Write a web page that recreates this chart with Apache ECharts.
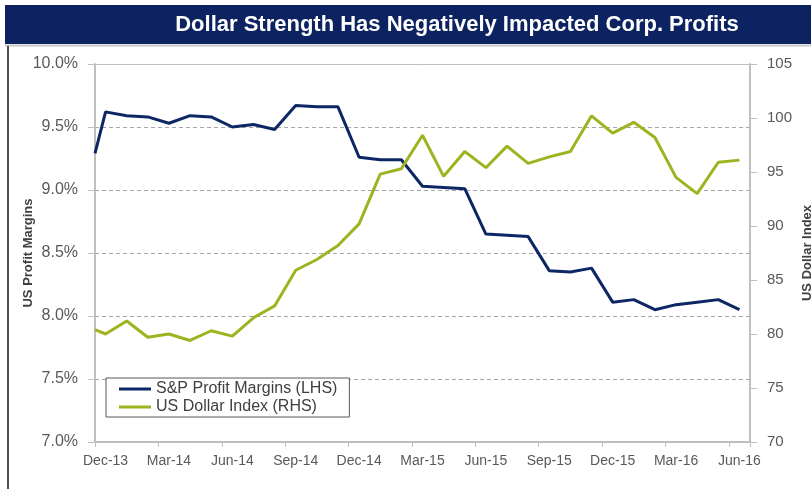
<!DOCTYPE html>
<html>
<head>
<meta charset="utf-8">
<script src="https://cdn.jsdelivr.net/npm/echarts@6/dist/echarts.min.js"></script>
<style>
  html, body { margin: 0; padding: 0; background: #ffffff; overflow: hidden; }
  #chart { width: 811px; height: 489px; }
</style>
</head>
<body>
<div id="chart"></div>
<script>
// Month categories (Dec-13 .. Jun-16)
const months = ['Dec-13','Jan-14','Feb-14','Mar-14','Apr-14','May-14','Jun-14','Jul-14','Aug-14','Sep-14','Oct-14','Nov-14',
  'Dec-14','Jan-15','Feb-15','Mar-15','Apr-15','May-15','Jun-15','Jul-15','Aug-15','Sep-15','Oct-15','Nov-15',
  'Dec-15','Jan-16','Feb-16','Mar-16','Apr-16','May-16','Jun-16'];

// Values at the start of the period (left edge of the chart)
const profitStart = 9.29;
const dollarStart = 80.4;

// S&P Profit Margins (LHS, %), monthly
const profitMargins = [9.62, 9.59, 9.58, 9.53, 9.59, 9.58, 9.50, 9.52, 9.48, 9.67, 9.66, 9.66,
  9.26, 9.24, 9.24, 9.03, 9.02, 9.01, 8.65, 8.64, 8.63, 8.36, 8.35, 8.38,
  8.11, 8.13, 8.05, 8.09, 8.11, 8.13, 8.05];

// US Dollar Index (RHS), monthly
const dollarIndex = [80.0, 81.2, 79.7, 80.0, 79.4, 80.3, 79.8, 81.5, 82.6, 85.9, 86.9, 88.2,
  90.2, 94.8, 95.3, 98.4, 94.6, 96.9, 95.4, 97.4, 95.8, 96.4, 96.9, 100.2,
  98.6, 99.6, 98.2, 94.5, 93.0, 95.9, 96.1];

const leftTicks = { min: 7, max: 10, step: 0.5 };
const rightTicks = { min: 70, max: 105, step: 5 };

const seriesNames = ['S&P Profit Margins (LHS)', 'US Dollar Index (RHS)'];
const titleText = 'Dollar Strength Has Negatively Impacted Corp. Profits';

// positions in month units: start edge = 0, month centres = i + 0.5
const profitData = [[0, profitStart]].concat(profitMargins.map((v, i) => [i + 0.5, v]));
const dollarData = [[0, dollarStart]].concat(dollarIndex.map((v, i) => [i + 0.5, v]));

const FONT = '"Liberation Sans", Arial, sans-serif';
const axisGrey = '#bfbfbf';
const labelGrey = '#595959';
const blue = '#0d2765';
const green = '#9fb320';
const lineIcon = 'path://M0,0 L32,0 L32,3 L0,3 Z';

const chart = echarts.init(document.getElementById('chart'), null, { renderer: 'canvas' });
chart.setOption({
  backgroundColor: '#ffffff',
  animation: false,
  textStyle: { fontFamily: FONT },
  graphic: [
    { type: 'rect', shape: { x: 5, y: 5, width: 806, height: 39 }, style: { fill: '#0d2361' }, silent: true },
    { type: 'line', shape: { x1: 5, y1: 45.5, x2: 811, y2: 45.5 }, style: { stroke: '#c8c8c8', lineWidth: 2 }, silent: true },
    { type: 'line', shape: { x1: 8, y1: 46, x2: 8, y2: 489 }, style: { stroke: '#505050', lineWidth: 2 }, silent: true },
    { type: 'text', x: 457, y: 25, silent: true,
      style: { text: titleText, fill: '#ffffff', font: 'bold 22px ' + FONT, textAlign: 'center', textVerticalAlign: 'middle' } }
  ],
  grid: { left: 95, right: 61, top: 64, bottom: 47, containLabel: false, outerBoundsMode: 'none' },
  legend: {
    data: [
      { name: seriesNames[0], icon: lineIcon, itemStyle: { color: blue } },
      { name: seriesNames[1], icon: lineIcon, itemStyle: { color: green } }
    ],
    orient: 'vertical',
    left: 106, top: 378,
    padding: [3, 12, 2, 13],
    itemGap: 2,
    itemWidth: 32, itemHeight: 14,
    backgroundColor: '#ffffff',
    borderColor: '#595959', borderWidth: 1, borderRadius: 0,
    textStyle: { color: '#404040', fontSize: 16, fontFamily: FONT }
  },
  xAxis: [
    {
      type: 'category', data: months, boundaryGap: true, position: 'bottom',
      axisLine: { lineStyle: { color: axisGrey, width: 2 } },
      axisTick: { show: true, interval: 2, alignWithLabel: false, length: 5, lineStyle: { color: axisGrey, width: 1 } },
      axisLabel: { interval: 2, color: labelGrey, fontSize: 14, margin: 12, fontFamily: FONT },
      splitLine: { show: false }
    },
    {
      type: 'value', min: 0, max: months.length, position: 'top',
      axisLine: { show: true, onZero: false, lineStyle: { color: axisGrey, width: 1 } },
      axisTick: { show: false }, axisLabel: { show: false }, splitLine: { show: false }
    }
  ],
  yAxis: [
    {
      type: 'value', position: 'left',
      min: leftTicks.min, max: leftTicks.max, interval: leftTicks.step,
      name: 'US Profit Margins', nameLocation: 'middle', nameRotate: 90, nameGap: 60, nameMoveOverlap: false,
      nameTextStyle: { color: '#404040', fontSize: 13, fontWeight: 'bold', fontFamily: FONT },
      axisLine: { show: true, lineStyle: { color: axisGrey, width: 2 } },
      axisTick: { show: true, length: 7, lineStyle: { color: axisGrey } },
      axisLabel: { color: labelGrey, fontSize: 16, margin: 17, formatter: v => v.toFixed(1) + '%' },
      splitLine: { show: true, lineStyle: { color: '#a6a6a6', type: [4, 3], width: 1 } }
    },
    {
      type: 'value', position: 'right',
      min: rightTicks.min, max: rightTicks.max, interval: rightTicks.step,
      name: 'US Dollar Index', nameLocation: 'middle', nameRotate: 90, nameGap: 51, nameMoveOverlap: false,
      nameTextStyle: { color: '#404040', fontSize: 13, fontWeight: 'bold', fontFamily: FONT },
      axisLine: { show: true, lineStyle: { color: axisGrey, width: 2 } },
      axisTick: { show: true, length: 7, lineStyle: { color: axisGrey } },
      axisLabel: { color: labelGrey, fontSize: 15, margin: 17 },
      splitLine: { show: false }
    }
  ],
  series: [
    {
      name: seriesNames[0], type: 'line', xAxisIndex: 1, yAxisIndex: 0,
      data: profitData, symbol: 'none', smooth: false,
      lineStyle: { color: blue, width: 3 }, itemStyle: { color: blue }, z: 3
    },
    {
      name: seriesNames[1], type: 'line', xAxisIndex: 1, yAxisIndex: 1,
      data: dollarData, symbol: 'none', smooth: false,
      lineStyle: { color: green, width: 3 }, itemStyle: { color: green }, z: 3
    }
  ]
});
</script>
</body>
</html>
